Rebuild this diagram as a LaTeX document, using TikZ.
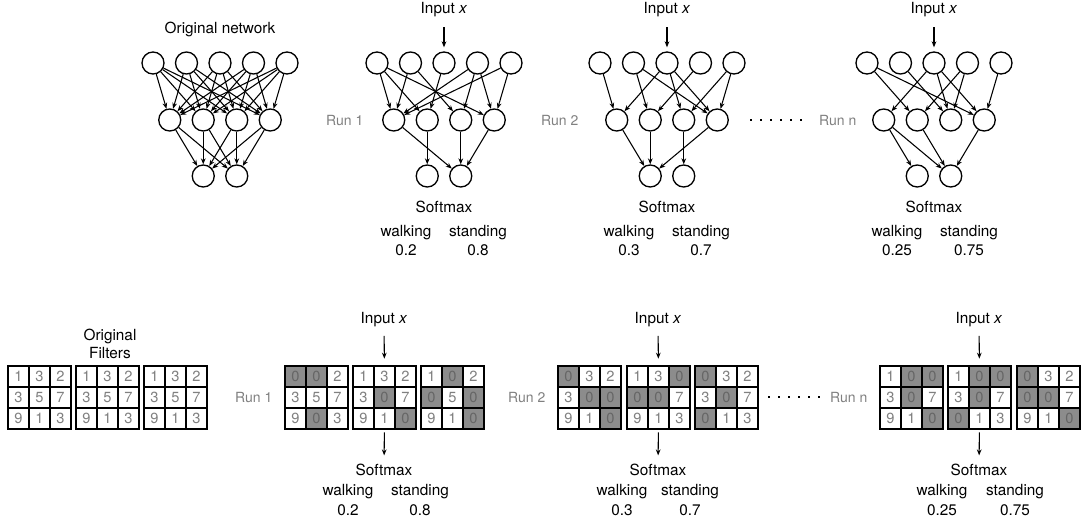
\documentclass[tikz,border=0pt]{standalone}
\usepackage{fontspec}
\setmainfont{TeX Gyre Heros}
\usetikzlibrary{positioning}
\usetikzlibrary{arrows.meta}

\definecolor{gris}{HTML}{8C8C8C}
\definecolor{texto}{HTML}{808080}
\definecolor{textocero}{HTML}{666666}

% capas de una red: prefijo, x del primer nodo de entrada
\newcommand{\capas}[2]{%
  \foreach \i in {1,...,5}
    \node[neurona] (#1e\i) at ({#2+33.5*(\i-1)},63) {};
  \foreach \i in {1,...,4}
    \node[neurona] (#1h\i) at ({#2+16.75+33.5*(\i-1)},120) {};
  \foreach \i in {1,2}
    \node[neurona] (#1s\i) at ({#2+50.25+33.5*(\i-1)},176) {};
}

% filtro 3x3: nombre, x, y, valores (los ceros van en gris)
\newcommand{\filtro}[4]{%
  \foreach \v [count=\k from 0] in {#4} {
    \pgfmathtruncatemacro{\fila}{\k/3}
    \pgfmathtruncatemacro{\columna}{mod(\k,3)}
    \ifnum\v=0 \def\fondo{gris}\def\tinta{textocero}\else\def\fondo{white}\def\tinta{texto}\fi
    \node[celda, fill=\fondo, text=\tinta] (#1-\k) at ({#2+21*\columna+10.5},{#3+21*\fila+10.5}) {\v};
  }
}

\begin{document}
\begin{tikzpicture}[x=0.75pt, y=-0.75pt,
    neurona/.style={draw, circle, line width=1pt, minimum size=16.5pt, inner sep=0pt},
    celda/.style={draw, line width=1pt, minimum size=15.75pt, inner sep=0pt, font=\fontsize{11}{12}\selectfont},
    flecha/.style={-{Stealth[length=4.5pt,width=3.5pt]}, line width=0.8pt},
    etiqueta/.style={font=\fontsize{11.5}{13}\selectfont},
    corrida/.style={font=\fontsize{10.5}{12}\selectfont, text=texto, anchor=east},
    puntos/.style={line width=1.2pt, dash pattern=on 1.2pt off 6.3pt}]
  \useasboundingbox (0,0) rectangle (1081,522);

  % Redes
  \node[etiqueta] (otit) at (220,29) {Original network};
  \capas{o}{153}
  \capas{a}{377}
  \capas{b}{600}
  \capas{c}{867}

  % Aristas: red original completa
  \foreach \i in {1,...,5}
    \foreach \j in {1,...,4}
      \draw[flecha] (oe\i) -- (oh\j);
  \foreach \j in {1,...,4}
    \foreach \k in {1,2}
      \draw[flecha] (oh\j) -- (os\k);

  % Aristas: corridas con dropout
  \foreach \u/\w in {e1/h1, e1/h2, e1/h4, e2/h1, e2/h3, e3/h2, e4/h1, e4/h3, e4/h4, e5/h1, e5/h4,
                     h1/s2, h2/s1, h3/s2, h4/s2}
    \draw[flecha] (a\u) -- (a\w);
  \foreach \u/\w in {e1/h1, e2/h2, e2/h4, e3/h1, e3/h3, e3/h4, e4/h2, e5/h3, e5/h4,
                     h1/s1, h2/s1, h4/s1, h3/s2}
    \draw[flecha] (b\u) -- (b\w);
  \foreach \u/\w in {e1/h2, e1/h4, e2/h3, e3/h1, e3/h3, e3/h4, e4/h2, e4/h3, e5/h4,
                     h1/s1, h1/s2, h2/s2, h4/s2}
    \draw[flecha] (c\u) -- (c\w);

  % Etiquetas de las corridas
  \node[etiqueta] (ain) at (444,10) {Input \textit{x}};
  \node[etiqueta] (bin) at (667,10) {Input \textit{x}};
  \node[etiqueta] (cin) at (934,10) {Input \textit{x}};
  \draw[flecha, shorten <=4pt, shorten >=3pt] (ain) -- (ae3);
  \draw[flecha, shorten <=4pt, shorten >=3pt] (bin) -- (be3);
  \draw[flecha, shorten <=4pt, shorten >=3pt] (cin) -- (ce3);
  \node[corrida] (arun) at (368,120) {Run 1};
  \node[corrida] (brun) at (583,120) {Run 2};
  \node[corrida] (crun) at (861,120) {Run n};
  \coordinate (pa) at (750,120);
  \coordinate (pb) at (808,120);
  \draw[puntos] (pa) -- (pb);

  \node[etiqueta] (asoft) at (444,207) {Softmax};
  \node[etiqueta] (awalk) at (406,233) {walking};
  \node[etiqueta] (astand) at (478,233) {standing};
  \node[etiqueta] (apw) at (406,250) {0.2};
  \node[etiqueta] (aps) at (478,250) {0.8};
  \node[etiqueta] (bsoft) at (667,207) {Softmax};
  \node[etiqueta] (bwalk) at (629,233) {walking};
  \node[etiqueta] (bstand) at (701,233) {standing};
  \node[etiqueta] (bpw) at (629,250) {0.3};
  \node[etiqueta] (bps) at (701,250) {0.7};
  \node[etiqueta] (csoft) at (934,207) {Softmax};
  \node[etiqueta] (cwalk) at (897,233) {walking};
  \node[etiqueta] (cstand) at (969,233) {standing};
  \node[etiqueta] (cpw) at (897,250) {0.25};
  \node[etiqueta] (cps) at (969,250) {0.75};

  % Filtros
  \node[etiqueta, align=center] (ftit) at (110,344) {Original\\Filters};
  \filtro{fo1}{8}{366}{1,3,2,3,5,7,9,1,3}
  \filtro{fo2}{76}{366}{1,3,2,3,5,7,9,1,3}
  \filtro{fo3}{144}{366}{1,3,2,3,5,7,9,1,3}

  \filtro{fa1}{285}{366}{0,0,2,3,5,7,9,0,3}
  \filtro{fa2}{353}{366}{1,3,2,3,0,7,9,1,0}
  \filtro{fa3}{421}{366}{1,0,2,0,5,0,9,1,0}

  \filtro{fb1}{558}{366}{0,3,2,3,0,0,9,1,0}
  \filtro{fb2}{627}{366}{1,3,0,0,0,7,9,1,3}
  \filtro{fb3}{695}{366}{0,3,2,3,0,7,0,1,3}

  \filtro{fc1}{880}{366}{1,0,0,3,0,7,9,1,0}
  \filtro{fc2}{948}{366}{1,0,0,3,0,7,0,1,3}
  \filtro{fc3}{1017}{366}{0,3,2,0,0,7,9,1,0}

  \node[etiqueta] (fain) at (384,320) {Input \textit{x}};
  \node[etiqueta] (fbin) at (658,320) {Input \textit{x}};
  \node[etiqueta] (fcin) at (979,320) {Input \textit{x}};
  \draw[flecha, shorten <=3pt, shorten >=5pt] (fain) -- (fa2-1);
  \draw[flecha, shorten <=3pt, shorten >=5pt] (fbin) -- (fb2-1);
  \draw[flecha, shorten <=3pt, shorten >=5pt] (fcin) -- (fc2-1);
  \node[corrida] (farun) at (277,397) {Run 1};
  \node[corrida] (fbrun) at (550,397) {Run 2};
  \node[corrida] (fcrun) at (872,397) {Run n};
  \coordinate (fpa) at (768,397);
  \coordinate (fpb) at (822,397);
  \draw[puntos] (fpa) -- (fpb);

  \node[etiqueta] (fasoft) at (384,470) {Softmax};
  \node[etiqueta] (fawalk) at (348,492) {walking};
  \node[etiqueta] (fastand) at (420,492) {standing};
  \node[etiqueta] (fapw) at (348,510) {0.2};
  \node[etiqueta] (faps) at (420,510) {0.8};
  \node[etiqueta] (fbsoft) at (658,470) {Softmax};
  \node[etiqueta] (fbwalk) at (622,492) {walking};
  \node[etiqueta] (fbstand) at (690,492) {standing};
  \node[etiqueta] (fbpw) at (622,510) {0.3};
  \node[etiqueta] (fbps) at (690,510) {0.7};
  \node[etiqueta] (fcsoft) at (979,470) {Softmax};
  \node[etiqueta] (fcwalk) at (942,492) {walking};
  \node[etiqueta] (fcstand) at (1015,492) {standing};
  \node[etiqueta] (fcpw) at (942,510) {0.25};
  \node[etiqueta] (fcps) at (1015,510) {0.75};
  \draw[flecha, shorten <=2pt, shorten >=3pt] (fa2-7) -- (fasoft);
  \draw[flecha, shorten <=2pt, shorten >=3pt] (fb2-7) -- (fbsoft);
  \draw[flecha, shorten <=2pt, shorten >=3pt] (fc2-7) -- (fcsoft);
\end{tikzpicture}
\end{document}
